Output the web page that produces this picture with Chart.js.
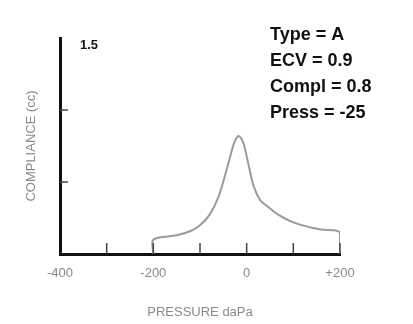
<!DOCTYPE html>
<html>
<head>
<meta charset="utf-8">
<script src="https://cdn.jsdelivr.net/npm/chart.js@4"></script>
<style>
  body { margin: 0; background: #fff; }
  #wrap { width: 413px; height: 324px; }
</style>
</head>
<body>
<div id="wrap"><canvas id="tympChart"></canvas></div>
<script>
// pressure (daPa) and compliance (cc)
const pressure = [-200, -200, -150, -120, -100, -80, -60, -40, -28, -18, -8, 4, 15, 30, 45, 60, 80, 100, 130, 160, 200, 200];
const compliance = [0, 0.10, 0.13, 0.16, 0.20, 0.27, 0.40, 0.62, 0.76, 0.82, 0.78, 0.62, 0.47, 0.37, 0.33, 0.29, 0.25, 0.22, 0.19, 0.17, 0.15, 0];
const xTickLabels = { '-400': '-400', '-200': '-200', '0': '0', '200': '+200' };
const resultLines = ['Type = A', 'ECV = 0.9', 'Compl = 0.8', 'Press = -25'];

const points = pressure.map((p, i) => ({ x: p, y: compliance[i] }));

// small tick marks pointing into the plot, plus the result box text
const innerTicks = {
    id: 'innerTicks',
    afterDraw(chart) {
        const ctx = chart.ctx;
        const xs = chart.scales.x, ys = chart.scales.y;
        ctx.save();
        ctx.strokeStyle = '#444';
        ctx.lineWidth = 1.5;
        xs.ticks.forEach(t => {
            if (t.value === -400) return;
            const px = xs.getPixelForValue(t.value);
            ctx.beginPath();
            ctx.moveTo(px, ys.bottom);
            ctx.lineTo(px, ys.bottom - 11);
            ctx.stroke();
        });
        ys.ticks.forEach(t => {
            if (t.value === 0 || t.value === 1.5) return;
            const py = ys.getPixelForValue(t.value);
            ctx.beginPath();
            ctx.moveTo(xs.left, py);
            ctx.lineTo(xs.left + 8, py);
            ctx.stroke();
        });
        ctx.fillStyle = '#111';
        ctx.font = 'bold 18px "Liberation Sans", Arial, sans-serif';
        ctx.textBaseline = 'middle';
        resultLines.forEach((line, i) => {
            ctx.fillText(line, 270, 35 + i * 26);
        });
        ctx.restore();
    }
};

const ctx = document.getElementById('tympChart').getContext('2d');
const tympChart = new Chart(ctx, {
    type: 'scatter',
    data: {
        datasets: [{
            data: points,
            showLine: true,
            borderColor: '#9a9a9a',
            borderWidth: 2,
            pointRadius: 0,
            tension: 0.3,
            fill: false
        }]
    },
    options: {
        responsive: true,
        maintainAspectRatio: false,
        animation: false,
        layout: { padding: { top: 38, right: 73, left: 20, bottom: 0 } },
        plugins: {
            legend: { display: false },
            tooltip: { enabled: false }
        },
        scales: {
            x: {
                type: 'linear',
                min: -400,
                max: 200,
                grid: { display: false },
                border: { color: '#111', width: 3 },
                ticks: {
                    stepSize: 100,
                    autoSkip: false,
                    maxRotation: 0,
                    color: '#8a8a8a',
                    font: { size: 13, family: 'Liberation Sans' },
                    padding: 4,
                    callback: v => xTickLabels[String(v)] || ''
                },
                title: {
                    display: true,
                    text: 'PRESSURE daPa',
                    color: '#8a8a8a',
                    font: { size: 13, family: 'Liberation Sans' },
                    padding: { top: 12 }
                },
                afterFit: s => { s.height = 70; }
            },
            y: {
                min: 0,
                max: 1.5,
                grid: { display: false },
                border: { color: '#111', width: 3 },
                ticks: {
                    stepSize: 0.5,
                    mirror: true,
                    padding: 20,
                    labelOffset: 7,
                    color: '#111',
                    font: { size: 13, weight: 'bold', family: 'Liberation Sans' },
                    callback: v => (v === 1.5 ? '1.5' : '')
                },
                title: {
                    display: true,
                    text: 'COMPLIANCE (cc)',
                    color: '#8a8a8a',
                    font: { size: 13, family: 'Liberation Sans' },
                    padding: { top: 4, bottom: 4 }
                },
                afterFit: s => { s.width = 40; }
            }
        }
    },
    plugins: [innerTicks]
});
</script>
</body>
</html>
